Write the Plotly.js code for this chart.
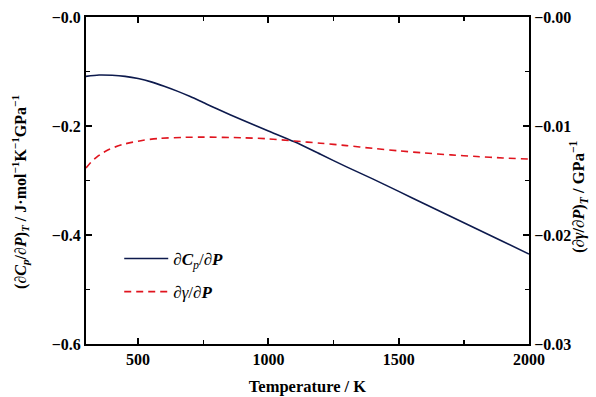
<!DOCTYPE html>
<html><head><meta charset="utf-8">
<script src="https://cdn.plot.ly/plotly-3.0.1.min.js"></script>
<style>body{margin:0;background:#fff}#c{width:596px;height:397px}</style>
</head><body><div id="c"></div>
<script>
const tempCp = [300,350,400,450,500,550,600,650,700,750,800,900,1000,1100,1200,1300,1400,1500,1600,1700,1800,1900,2000];
const dCpdP = [-0.109,-0.1065,-0.107,-0.109,-0.113,-0.119,-0.127,-0.136,-0.146,-0.157,-0.168,-0.189,-0.209,-0.229,-0.252,-0.275,-0.297,-0.320,-0.343,-0.366,-0.389,-0.412,-0.435];
const tempG = [300,320,340,360,380,400,440,480,520,580,680,750,900,1000,1100,1200,1300,1400,1500,1600,1700,1800,1900,2000];
const dGdP = [-0.01385,-0.01330,-0.01287,-0.01253,-0.01225,-0.01203,-0.01170,-0.01148,-0.01131,-0.01114,-0.01104,-0.01102,-0.01108,-0.01118,-0.01138,-0.01158,-0.01180,-0.01205,-0.01228,-0.01248,-0.01265,-0.01280,-0.01293,-0.01303];
const xTicks = [500,1000,1500,2000];
const yTicks = [0,-0.2,-0.4,-0.6];
const yTickText = ['−0.0','−0.2','−0.4','−0.6'];
const y2Ticks = [0,-0.01,-0.02,-0.03];
const y2TickText = ['−0.00','−0.01','−0.02','−0.03'];
const xTitle = 'Temperature / K';
const yTitle = '(∂<i>C</i><sub><i>p</i></sub>/∂<i>P</i>)<sub><i>T</i></sub> / J·mol<sup>−1</sup>K<sup>−1</sup>GPa<sup>−1</sup>';
const y2Title = '(∂<i>γ</i>/∂<i>P</i>)<sub><i>T</i></sub> / GPa<sup>−1</sup>';

const serif = '"Liberation Serif", "Times New Roman", serif';
const tickFont = {family: serif, size: 16, color: '#000', weight: 'bold'};
const titleFont = {family: serif, size: 16, color: '#000', weight: 'bold'};
const data = [
  {x: tempCp, y: dCpdP, mode: 'lines', line: {color: '#0d1a4d', width: 1.6, shape: 'spline', smoothing: 0.8},
   name: '∂<b><i>C</i></b><sub><i>p</i></sub>/∂<b><i>P</i></b>', yaxis: 'y', legendgroup: 'a'},
  {x: tempG, y: dGdP, mode: 'lines', line: {color: '#e0141e', width: 1.6, dash: '7px,5px', shape: 'spline', smoothing: 0.8},
   name: '∂<i>γ</i>/∂<b><i>P</i></b>', yaxis: 'y2', legendgroup: 'b'}
];
const axBase = {showline: true, linecolor: '#000', linewidth: 2, ticks: 'inside', ticklen: 6, tickwidth: 2, tickcolor: '#000', showgrid: false, zeroline: false, tickfont: tickFont};
const layout = {
  width: 596, height: 397,
  margin: {l: 86, r: 67, t: 17, b: 53},
  paper_bgcolor: '#fff', plot_bgcolor: '#fff',
  showlegend: true,
  legend: {x: 0.075, y: 0.315, xanchor: 'left', yanchor: 'top', bgcolor: 'rgba(0,0,0,0)', font: {family: serif, size: 17, color: '#000'}, traceorder: 'grouped', tracegroupgap: 8, itemwidth: 44},
  xaxis: Object.assign({}, axBase, {range: [300, 2000], tickmode: 'array', tickvals: xTicks, mirror: 'ticks',
    minor: {dtick: 250, tick0: 0, ticks: 'inside', ticklen: 4, tickwidth: 1.5, tickcolor: '#000'},
    title: {text: xTitle, font: {family: serif, size: 16.5, color: '#000', weight: 'bold'}, standoff: 13}}),
  yaxis: Object.assign({}, axBase, {range: [-0.6, 0], tickmode: 'array', tickvals: yTicks, ticktext: yTickText,
    minor: {dtick: 0.1, tick0: 0, ticks: 'inside', ticklen: 4, tickwidth: 1.5, tickcolor: '#000'}}),
  yaxis2: Object.assign({}, axBase, {range: [-0.03, 0], overlaying: 'y', side: 'right', tickmode: 'array', tickvals: y2Ticks, ticktext: y2TickText,
    minor: {dtick: 0.005, tick0: 0, ticks: 'inside', ticklen: 4, tickwidth: 1.5, tickcolor: '#000'}}),
  annotations: [
    {text: yTitle, xref: 'paper', yref: 'paper', x: -0.149, y: 0.465, xanchor: 'center', yanchor: 'middle', textangle: -90, showarrow: false, font: titleFont},
    {text: y2Title, xref: 'paper', yref: 'paper', x: 1.111, y: 0.45, xanchor: 'center', yanchor: 'middle', textangle: -90, showarrow: false, font: {family: serif, size: 16.5, color: '#000', weight: 'bold'}}
  ]
};
Plotly.newPlot('c', data, layout, {staticPlot: true});
</script></body></html>
